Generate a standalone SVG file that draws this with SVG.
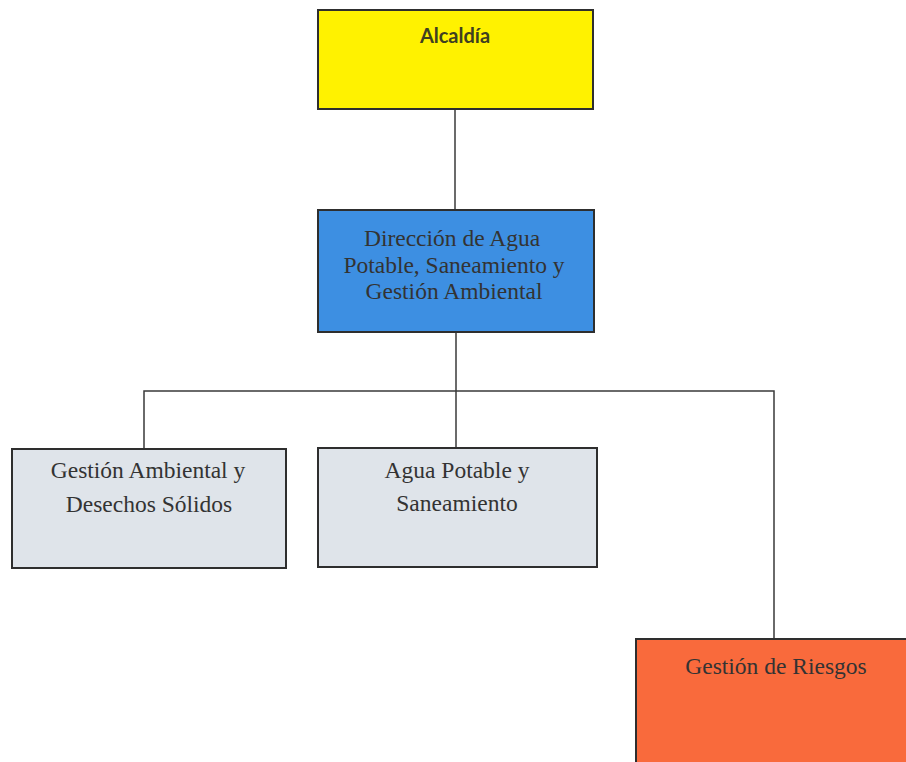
<svg xmlns="http://www.w3.org/2000/svg" width="906" height="762" viewBox="0 0 906 762">
  <style>
    .box { stroke: #2e2e2e; stroke-width: 2; }
    .link { stroke: #3a3a3a; stroke-width: 1.5; fill: none; }
    .serif { font-family: "Liberation Serif", "Times New Roman", serif; font-size: 23.5px; fill: #333333; text-anchor: middle; }
    .sans { font-family: "Lato", "Liberation Sans", sans-serif; font-size: 20px; font-weight: bold; fill: #404020; text-anchor: middle; }
  </style>
  <rect width="906" height="762" fill="#ffffff"/>

  <g id="connectors">
    <line class="link" x1="455" y1="109" x2="455" y2="210"/>
    <line class="link" x1="456" y1="332" x2="456" y2="391"/>
    <polyline class="link" points="144,449 144,391 774,391 774,640"/>
    <line class="link" x1="456" y1="391" x2="456" y2="448"/>
  </g>

  <g id="alcaldia">
    <rect class="box" x="318" y="10" width="275" height="99" fill="#fff200"/>
    <text class="sans" x="455" y="43">Alcaldía</text>
  </g>

  <g id="direccion">
    <rect class="box" x="318" y="210" width="276" height="122" fill="#3d8fe2"/>
    <text class="serif" x="452" y="246">Dirección de Agua</text>
    <text class="serif" x="454" y="273">Potable, Saneamiento y</text>
    <text class="serif" x="454" y="299">Gestión Ambiental</text>
  </g>

  <g id="gestion-ambiental">
    <rect class="box" x="12" y="449" width="274" height="119" fill="#dfe4ea"/>
    <text class="serif" x="148" y="478">Gestión Ambiental y</text>
    <text class="serif" x="149" y="512">Desechos Sólidos</text>
  </g>

  <g id="agua-potable">
    <rect class="box" x="318" y="448" width="279" height="119" fill="#dfe4ea"/>
    <text class="serif" x="457" y="478">Agua Potable y</text>
    <text class="serif" x="457" y="511">Saneamiento</text>
  </g>

  <g id="riesgos">
    <rect class="box" x="636" y="639" width="280" height="140" fill="#f96a3c"/>
    <text class="serif" x="776" y="674">Gestión de Riesgos</text>
  </g>
</svg>
